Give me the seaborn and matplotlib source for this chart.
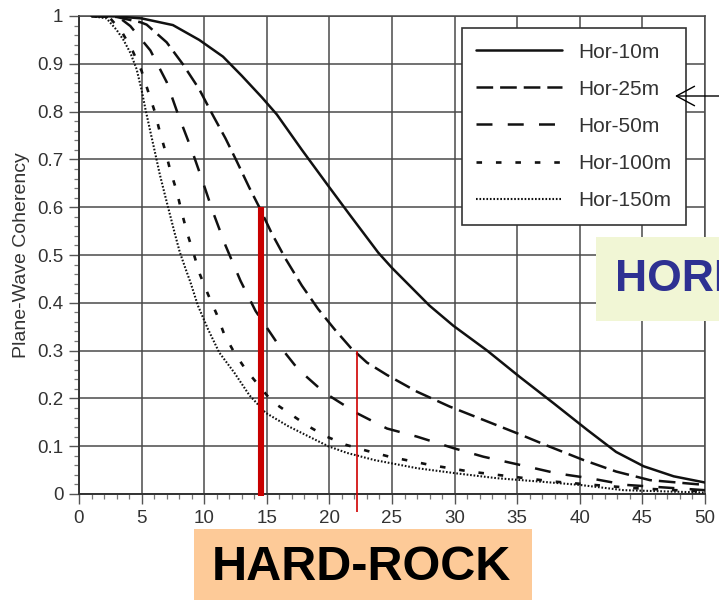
import numpy as np
import pandas as pd
import matplotlib
matplotlib.use("Agg")
import matplotlib.pyplot as plt
from matplotlib.patches import Rectangle
from matplotlib.ticker import MultipleLocator, FixedLocator, FixedFormatter
import seaborn as sns

# ---- data: plane-wave coherency vs. frequency for several horizontal separations
sep_10 = [1, 3, 5, 7.5, 9.6, 11.5, 13, 14.6, 15.8, 17.8, 19.9, 21.6, 23.9, 25.0,
          28.0, 29.9, 32.6, 35.2, 37.9, 40.6, 42.9, 45.1, 47.5, 50]
coh_10 = [1.0, 0.999, 0.995, 0.981, 0.95, 0.915, 0.875, 0.83, 0.794, 0.72, 0.645,
          0.585, 0.505, 0.473, 0.394, 0.352, 0.3, 0.245, 0.19, 0.134, 0.088, 0.058,
          0.037, 0.024]

sep_25 = [1, 3, 4.9, 5.4, 7.0, 8.3, 9.6, 10.7, 11.7, 12.6, 13.6, 14.4, 15.4, 16.5,
          17.8, 19.1, 20.4, 21.7, 23.0, 24.6, 27.0, 29.6, 32.3, 35.0, 37.6, 40.3,
          42.9, 45.6, 50]
coh_25 = [1.0, 0.998, 0.987, 0.982, 0.945, 0.899, 0.847, 0.792, 0.744, 0.696, 0.641,
          0.6, 0.545, 0.492, 0.436, 0.387, 0.345, 0.306, 0.275, 0.249, 0.214, 0.183,
          0.155, 0.127, 0.099, 0.071, 0.047, 0.029, 0.019]

sep_50 = [1, 2, 3.3, 4.1, 5.7, 7.0, 7.9, 9.0, 9.8, 10.7, 11.7, 12.9, 14.1, 15.8, 17.5,
          19.6, 22.2, 24.6, 27.0, 29.9, 32.3, 35.2, 38.2, 40.8, 43.7, 50]
coh_50 = [1.0, 0.999, 0.995, 0.979, 0.928, 0.862, 0.795, 0.72, 0.66, 0.59, 0.52,
          0.446, 0.383, 0.317, 0.261, 0.212, 0.169, 0.137, 0.12, 0.096, 0.078, 0.061,
          0.043, 0.033, 0.019, 0.008]

sep_100 = [1, 2.5, 3.4, 4.3, 5.0, 5.5, 6.05, 6.45, 6.9, 7.3, 7.8, 8.2, 8.65, 9.1, 9.65,
           10.3, 11.0, 11.6, 12.4, 13.3, 15.4, 16.9, 18.3, 19.7, 21.3, 22.9, 24.8, 28.0,
           31.2, 34.7, 37.9, 41.1, 44.5, 50]
coh_100 = [1.0, 0.995, 0.968, 0.926, 0.885, 0.844, 0.8, 0.758, 0.717, 0.676, 0.634,
           0.59, 0.545, 0.508, 0.46, 0.418, 0.376, 0.334, 0.296, 0.261, 0.194, 0.167,
           0.142, 0.121, 0.103, 0.091, 0.078, 0.061, 0.047, 0.036, 0.026, 0.019, 0.012, 0.005]

sep_150 = [1, 2.2, 3.0, 3.55, 4.1, 4.6, 5.0, 5.3, 5.7, 6.05, 6.45, 6.85, 7.25, 7.65,
           8.05, 8.5, 8.9, 9.5, 10.3, 11.2, 12.4, 13.6, 14.9, 16.7, 18.3, 19.9, 21.4,
           23.6, 27.0, 30.2, 33.4, 36.8, 40.0, 43.5, 50]
coh_150 = [1.0, 0.995, 0.971, 0.95, 0.923, 0.889, 0.845, 0.806, 0.758, 0.717, 0.669,
           0.627, 0.586, 0.545, 0.506, 0.472, 0.443, 0.394, 0.345, 0.296, 0.254, 0.207,
           0.17, 0.142, 0.121, 0.1, 0.086, 0.071, 0.054, 0.043, 0.033, 0.026, 0.019,
           0.008, 0.003]

series_names = ["Hor-10m", "Hor-25m", "Hor-50m", "Hor-100m", "Hor-150m"]
series_x = [sep_10, sep_25, sep_50, sep_100, sep_150]
series_y = [coh_10, coh_25, coh_50, coh_100, coh_150]

# highlighted frequencies (vertical red markers) and where they meet the curves
marker_x = [14.5, 22.2]
marker_top = [0.6, 0.3]
marker_bottom = [-0.005, -0.037]

x_ticks = [0, 5, 10, 15, 20, 25, 30, 35, 40, 45, 50]
y_ticks = [0, 0.1, 0.2, 0.3, 0.4, 0.5, 0.6, 0.7, 0.8, 0.9, 1.0]
y_tick_labels = ["0", "0.1", "0.2", "0.3", "0.4", "0.5", "0.6", "0.7", "0.8", "0.9", "1"]

# ---- styling
sns.set_style("ticks")
plt.rcParams["font.family"] = ["Liberation Sans", "DejaVu Sans"]
plt.rcParams["lines.scale_dashes"] = False

line_styles = [
    dict(linestyle="-", lw=1.8),
    dict(linestyle=(0, (12, 5)), lw=1.8),
    dict(linestyle=(0, (11.5, 11)), lw=1.8),
    dict(linestyle=(0, (4, 10)), lw=1.9),
    dict(linestyle=(0, (1.2, 1.3)), lw=1.5),
]

W, H = 719, 600
fig = plt.figure(figsize=(W / 100, H / 100), dpi=100)
ax = fig.add_axes([79 / W, 1 - 494 / H, (705 - 79) / W, (494 - 16) / H])

frames = []
for name, xs, ys in zip(series_names, series_x, series_y):
    frames.append(pd.DataFrame({"freq": xs, "coh": ys, "curve": name}))
df = pd.concat(frames, ignore_index=True)

for name, st in zip(series_names, line_styles):
    sub = df[df["curve"] == name]
    sns.lineplot(data=sub, x="freq", y="coh", ax=ax, color="#111111",
                 label=name, sort=False, estimator=None, zorder=3, **st)

# red frequency markers
ax.plot([marker_x[0], marker_x[0]], [marker_bottom[0], marker_top[0]],
        color="#C80000", lw=4.4, solid_capstyle="butt", clip_on=False, zorder=4)
ax.plot([marker_x[1], marker_x[1]], [marker_bottom[1], marker_top[1]],
        color="#D00000", lw=1.2, solid_capstyle="butt", clip_on=False, zorder=4)

ax.set_xlim(0, 50)
ax.set_ylim(0, 1)
ax.set_xlabel("")
ax.set_ylabel("Plane-Wave Coherency", fontsize=14, color="#333333", labelpad=5)

ax.xaxis.set_major_locator(FixedLocator(x_ticks))
ax.xaxis.set_minor_locator(MultipleLocator(1))
ax.yaxis.set_major_locator(FixedLocator(y_ticks))
ax.yaxis.set_major_formatter(FixedFormatter(y_tick_labels))
ax.yaxis.set_minor_locator(MultipleLocator(0.02))

ax.tick_params(which="major", direction="out", length=7.2, width=1.0,
               color="#555555", labelsize=13.5, labelcolor="#333333", pad=4)
ax.tick_params(which="minor", direction="out", length=3.6, width=0.9,
               color="#777777")
ax.tick_params(top=False, right=False, which="both")

ax.grid(True, which="major", color="#4a4a4a", lw=1.1, zorder=1)
ax.set_axisbelow(True)
for side in ["top", "right"]:
    ax.spines[side].set_color("#4a4a4a")
    ax.spines[side].set_linewidth(1.1)
for side in ["left", "bottom"]:
    ax.spines[side].set_color("#333333")
    ax.spines[side].set_linewidth(1.4)

leg = ax.legend(loc="upper right", bbox_to_anchor=(0.970, 0.975), borderaxespad=0,
                fontsize=15, frameon=True, fancybox=False, shadow=False,
                handlelength=4.1, handletextpad=0.8, labelspacing=0.87,
                borderpad=0.7, framealpha=1)
leg.get_frame().set_edgecolor("#333333")
leg.get_frame().set_linewidth(1.2)
for t in leg.get_texts():
    t.set_color("#333333")

# ---- overlay labels
fig.add_artist(Rectangle((194 / W, 0), (531.7 - 194) / W, (600 - 529) / H,
                         transform=fig.transFigure, facecolor="#FDCA98",
                         edgecolor="none", zorder=5))
fig.text(361.5 / W, 1 - 567 / H, "HARD-ROCK", ha="center", va="center",
         fontsize=35, fontweight="bold", color="black", zorder=6)

fig.add_artist(Rectangle((596 / W, 1 - 320.7 / H), (W - 596) / W, (320.7 - 237.3) / H,
                         transform=fig.transFigure, facecolor="#F1F6D5",
                         edgecolor="none", zorder=5))
fig.text(615 / W, 1 - 279 / H, "HORIZONTAL", ha="left", va="center",
         fontsize=32, fontweight="bold", color="#2E3192", zorder=6)

fig.add_artist(plt.Annotation("", xy=(675 / W, 1 - 96 / H), xytext=(1.01, 1 - 96 / H),
                              xycoords="figure fraction", textcoords="figure fraction",
                              arrowprops=dict(arrowstyle="->,head_length=1.3,head_width=0.7",
                                              color="black", lw=1.0, shrinkA=0, shrinkB=0)))

fig.savefig("out.png", dpi=100)
